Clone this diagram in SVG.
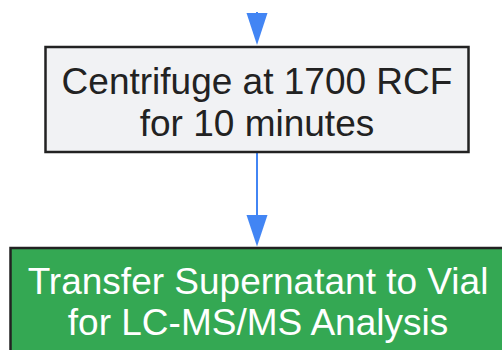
<svg xmlns="http://www.w3.org/2000/svg" width="502" height="350" viewBox="0 0 502 350">
  <defs>
    <marker id="arrow" viewBox="0 0 21 31" refX="10.5" refY="31" markerWidth="21" markerHeight="31" markerUnits="userSpaceOnUse" orient="auto-start-reverse">
      <path d="M0,0 L21,0 L10.5,31 Z" fill="#4285f4"/>
    </marker>
  </defs>
  <style>
    .lbl { font-family: "Liberation Sans", Arial, sans-serif; font-size: 37px; text-anchor: middle; }
    .edge { stroke: #4285f4; stroke-width: 2; fill: none; }
  </style>
  <rect width="502" height="350" fill="#ffffff"/>
  <g id="connectors">
    <line class="edge" x1="257" y1="12" x2="257" y2="25" />
    <path d="M246.5,13 L267.5,13 L257,45 Z" fill="#4285f4"/>
    <line class="edge" x1="257" y1="152" x2="257" y2="220" />
    <path d="M246.5,215 L267.5,215 L257,246.5 Z" fill="#4285f4"/>
  </g>
  <g id="centrifuge">
    <rect x="45.5" y="47" width="423" height="105" fill="#f1f2f4" stroke="#222222" stroke-width="2.5"/>
    <text class="lbl" fill="#222222"><tspan x="257" y="94">Centrifuge at 1700 RCF</tspan><tspan x="257" y="136">for 10 minutes</tspan></text>
  </g>
  <g id="transfer">
    <rect x="10.5" y="248" width="510" height="130" fill="#34a853" stroke="#222222" stroke-width="2.5"/>
    <text class="lbl" fill="#ffffff"><tspan x="258" y="294">Transfer Supernatant to Vial</tspan><tspan x="258" y="335">for LC-MS/MS Analysis</tspan></text>
  </g>
</svg>
